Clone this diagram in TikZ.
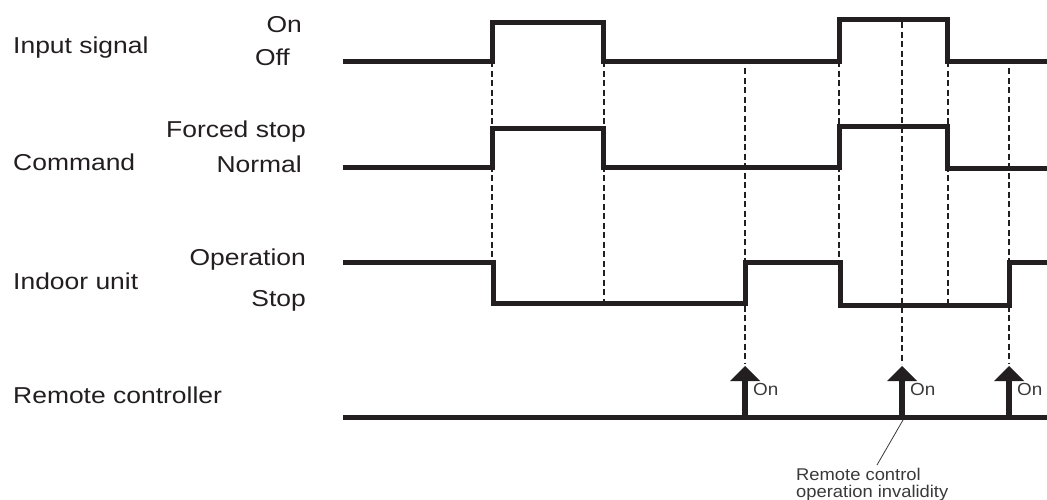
\documentclass[tikz,border=0pt]{standalone}
\usepackage{fontspec}
\newfontfamily\lblfont[FakeStretch=1.15]{Liberation Sans}
\newfontfamily\smlfont[FakeStretch=1.08]{Liberation Sans}
\definecolor{ink}{HTML}{231F20}
\definecolor{smallink}{HTML}{3A3A3A}
\begin{document}
\begin{tikzpicture}[x=1pt,y=-1pt,
  wave/.style={draw=ink,line width=5pt,miter limit=10},
  guide/.style={draw=ink,line width=2.2pt,dash pattern=on 6pt off 3.5pt},
  boldguide/.style={guide,line width=2.8pt},
  lbl/.style={inner sep=0pt,text=ink,font=\lblfont\fontsize{23}{23}\selectfont},
  sml/.style={inner sep=0pt,text=smallink,font=\smlfont\fontsize{17}{15}\selectfont},
  shaft/.style={draw=ink,line width=6pt},
  head/.style={fill=ink,draw=none}]
\useasboundingbox[fill=white] (0,0) rectangle (1047,499);

% dashed guides (under the waves)
\draw[guide] (492,61) -- (492,262);
\draw[guide] (604,61) -- (604,303);
\draw[boldguide] (745,68) -- (745,364);
\draw[boldguide] (839,61) -- (839,262);
\draw[guide] (902,22) -- (902,364);
\draw[boldguide] (948,61) -- (948,305);
\draw[guide] (1009,68) -- (1009,364);

% input signal
\draw[wave] (343,61) -- (492,61) -- (492,22) -- (603,22) -- (603,61) -- (839,61) -- (839,19) -- (947,19) -- (947,61) -- (1047,61);
% command
\draw[wave] (343,167) -- (492,167) -- (492,128) -- (603,128) -- (603,167) -- (839,167) -- (839,126) -- (947,126) -- (947,168) -- (1047,168);
% indoor unit
\draw[wave] (343,262) -- (493,262) -- (493,303) -- (745,303) -- (745,262) -- (840,262) -- (840,305) -- (1009,305) -- (1009,262) -- (1047,262);
% remote controller
\draw[wave] (343,417) -- (1047,417);

% arrows
\foreach \x/\n in {745/a,902/b,1009/c}{
  \draw[shaft] (\x,417) -- (\x,378);
  \fill[head] (\x-15,381) -- (\x,366) -- (\x+15,381) -- cycle;
  \node[sml,anchor=base west,font=\smlfont\fontsize{17.5}{17.5}\selectfont] (on\n) at (\x+8,395) {On};
}

% annotation
\coordinate (pt) at (903,420);
\node[sml,anchor=base west] (note1) at (796,480) {Remote control};
\node[sml,anchor=base west] (note2) at (796,497) {operation invalidity};
\draw[smallink,line width=0.8pt] (pt) -- (877,465);

% left labels
\node[lbl,anchor=base west] (l1) at (13,53) {Input signal};
\node[lbl,anchor=base west] (l2) at (13,170) {Command};
\node[lbl,anchor=base west] (l3) at (13,289) {Indoor unit};
\node[lbl,anchor=base west] (l4) at (13,403) {Remote controller};

% state labels
\node[lbl,anchor=base east] (s1) at (302,32) {On};
\node[lbl,anchor=base east] (s2) at (290,65) {Off};
\node[lbl,anchor=base east] (s3) at (306,137) {Forced stop};
\node[lbl,anchor=base east] (s4) at (302,172) {Normal};
\node[lbl,anchor=base east] (s5) at (306,265) {Operation};
\node[lbl,anchor=base east] (s6) at (306,306) {Stop};
\end{tikzpicture}
\end{document}
